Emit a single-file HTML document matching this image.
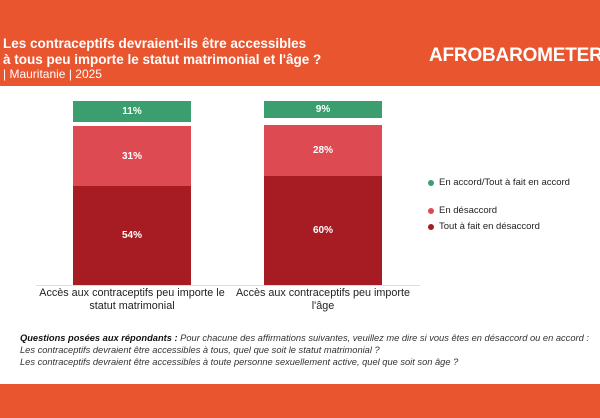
<!DOCTYPE html>
<html><head><meta charset="utf-8"><style>
body{margin:0;width:600px;height:418px;background:#fff;font-family:"Liberation Sans",sans-serif;position:relative;overflow:hidden}
.a{position:absolute}
.bar{position:absolute;color:#fff;font-weight:bold;font-size:10px;display:flex;align-items:center;justify-content:center}
.lg{position:absolute;font-size:9.5px;color:#222}
.dot{position:absolute;width:6px;height:6px;border-radius:50%}
</style></head><body>
<div class="a" style="left:0;top:0;width:600px;height:86px;background:#E9552F"></div>
<div class="a" style="left:3px;top:36px;color:#fff;font-weight:bold;font-size:13.5px;line-height:15.5px;white-space:nowrap">Les contraceptifs devraient-ils être accessibles<br>à tous peu importe le statut matrimonial et l'âge ?</div>
<div class="a" style="left:3px;top:67px;color:#fff;font-size:12px">| Mauritanie | 2025</div>
<div class="a" style="left:429px;top:45px;color:#fff;font-weight:bold;font-size:19px;letter-spacing:-0.2px;white-space:nowrap">AFROBAROMETER</div>

<div class="bar" style="left:73px;top:101px;width:118px;height:21px;background:#3A9E6F">11%</div>
<div class="bar" style="left:73px;top:126px;width:118px;height:60px;background:#DE4A52">31%</div>
<div class="bar" style="left:73px;top:186px;width:118px;height:99px;background:#A61C22">54%</div>
<div class="bar" style="left:264px;top:101px;width:118px;height:17px;background:#3A9E6F">9%</div>
<div class="bar" style="left:264px;top:125px;width:118px;height:51px;background:#DE4A52">28%</div>
<div class="bar" style="left:264px;top:176px;width:118px;height:109px;background:#A61C22">60%</div>
<div class="a" style="left:36px;top:285px;width:384px;height:1px;background:#ddd"></div>
<div class="a" style="left:34px;top:287px;width:196px;text-align:center;font-size:10.8px;line-height:13px;color:#222">Accès aux contraceptifs peu importe le statut matrimonial</div>
<div class="a" style="left:232px;top:287px;width:182px;text-align:center;font-size:10.8px;line-height:13px;color:#222">Accès aux contraceptifs peu importe l'âge</div>

<div class="dot" style="left:428px;top:180px;background:#3A9E6F"></div>
<div class="lg" style="left:439px;top:177px">En accord/Tout à fait en accord</div>
<div class="dot" style="left:428px;top:208px;background:#DE4A52"></div>
<div class="lg" style="left:439px;top:205px">En désaccord</div>
<div class="dot" style="left:428px;top:224px;background:#A61C22"></div>
<div class="lg" style="left:439px;top:221px">Tout à fait en désaccord</div>

<div class="a" style="left:20px;top:332px;font-size:9.3px;line-height:12px;font-style:italic;color:#333;white-space:nowrap"><b style="color:#111">Questions posées aux répondants :</b> Pour chacune des affirmations suivantes, veuillez me dire si vous êtes en désaccord ou en accord :<br>Les contraceptifs devraient être accessibles à tous, quel que soit le statut matrimonial ?<br>Les contraceptifs devraient être accessibles à toute personne sexuellement active, quel que soit son âge ?</div>
<div class="a" style="left:0;top:384px;width:600px;height:34px;background:#E9552F"></div>
</body></html>
